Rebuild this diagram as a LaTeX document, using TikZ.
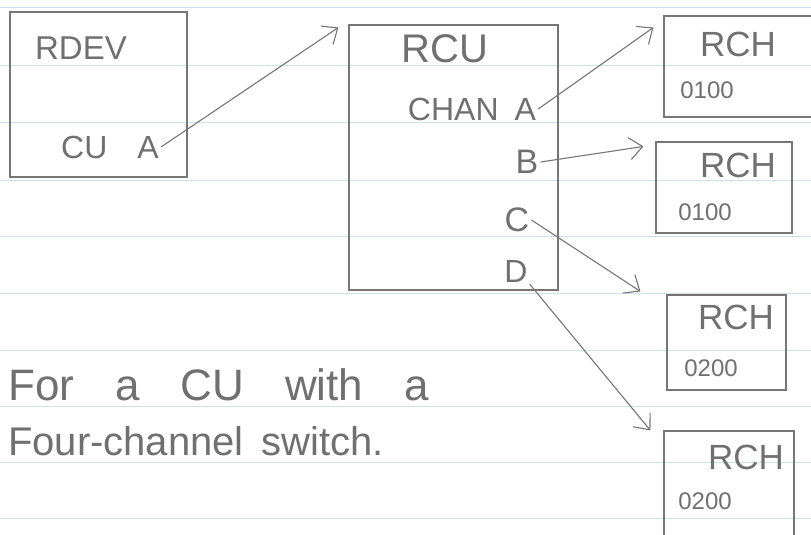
\documentclass[tikz,border=0pt]{standalone}
\usepackage{fontspec}
\setmainfont{Liberation Sans}
\usetikzlibrary{arrows.meta,calc}
\definecolor{pencil}{RGB}{118,118,118}
\definecolor{pencilText}{RGB}{112,112,112}
\definecolor{ruled}{RGB}{205,224,240}
\newcommand\wsp[1]{\spaceskip=#1\relax}
\tikzset{
  sketchbox/.style={draw=pencil, line width=1.1pt, rectangle, inner sep=0pt},
  lbl/.style={text=pencilText, inner sep=2pt},
  big/.style={lbl, font=\fontsize{40}{44}\selectfont},
  mid/.style={lbl, font=\fontsize{34}{38}\selectfont},
  sml/.style={lbl, font=\fontsize{24}{28}\selectfont},
  conn/.style={draw=pencil, line width=1.1pt, -{Straight Barb[length=13pt,width=22pt,line width=1.1pt]}},
  ruleline/.style={draw=ruled, line width=0.8pt}
}
\begin{document}
\begin{tikzpicture}[x=1pt,y=-1pt]
\useasboundingbox (0,0) rectangle (811,535);
\fill[white] (0,0) rectangle (811,535);
% ruled paper
\foreach \yy in {7,65,122,180,236,293,350,406,462,518}
  \draw[ruleline] (0,\yy) -- (811,\yy);

% boxes
\node[sketchbox, minimum width=177pt, minimum height=165pt] (rdev) at (98.5,94.5) {};
\node[sketchbox, minimum width=209pt, minimum height=265pt] (rcu) at (453.5,157.5) {};
\node[sketchbox, minimum width=148pt, minimum height=101pt] (rch1) at (738,66.5) {};
\node[sketchbox, minimum width=136pt, minimum height=91pt] (rch2) at (724,187.5) {};
\node[sketchbox, minimum width=119pt, minimum height=95pt] (rch3) at (726.5,342.5) {};
\node[sketchbox, minimum width=130pt, minimum height=106pt] (rch4) at (729,484) {};

% labels
\node[lbl, font=\fontsize{33}{36}\selectfont] (rdevT) at (81,48) {RDEV};
\node[lbl, font=\fontsize{32}{36}\selectfont] (cuA) at (110,147) {\wsp{30pt}CU A};
\node[big] (rcuT) at (445,49) {RCU};
\node[lbl, font=\fontsize{32}{36}\selectfont] (chanA) at (472,109) {\wsp{16pt}CHAN A};
\node[mid] (chB) at (527,162) {B};
\node[mid] (chC) at (517,220) {C};
\node[lbl, font=\fontsize{32}{36}\selectfont] (chD) at (516,271) {D};

\node[lbl, font=\fontsize{35}{38}\selectfont] (rch1T) at (738,44) {RCH};
\node[sml] (rch1N) at (707,90) {0100};
\node[lbl, font=\fontsize{35}{38}\selectfont] (rch2T) at (738,165) {RCH};
\node[sml] (rch2N) at (705,212) {0100};
\node[lbl, font=\fontsize{35}{38}\selectfont] (rch3T) at (736,317) {RCH};
\node[sml] (rch3N) at (711,368) {0200};
\node[lbl, font=\fontsize{35}{38}\selectfont] (rch4T) at (746,457) {RCH};
\node[sml] (rch4N) at (705,501) {0200};

\node[lbl, anchor=base west, font=\fontsize{44}{48}\selectfont] (note1) at (6,400) {\wsp{41pt}For a CU with a};
\node[lbl, anchor=base west, font=\fontsize{40}{44}\selectfont] (note2) at (6,455) {\wsp{18pt}Four-channel switch.};

% connectors
\draw[conn] (cuA.east) -- ($(rcu.north west)+(-10,3)$);
\draw[conn] (chanA.east) -- ($(rch1.north west)+(-10,12)$);
\draw[conn] (chB.east) -- ($(rch2.north west)+(-12,5)$);
\draw[conn] (chC.east) -- ($(rch3.north west)+(-26,-3)$);
\draw[conn] (chD.south east) -- ($(rch4.north west)+(-13,0)$);
\end{tikzpicture}
\end{document}
